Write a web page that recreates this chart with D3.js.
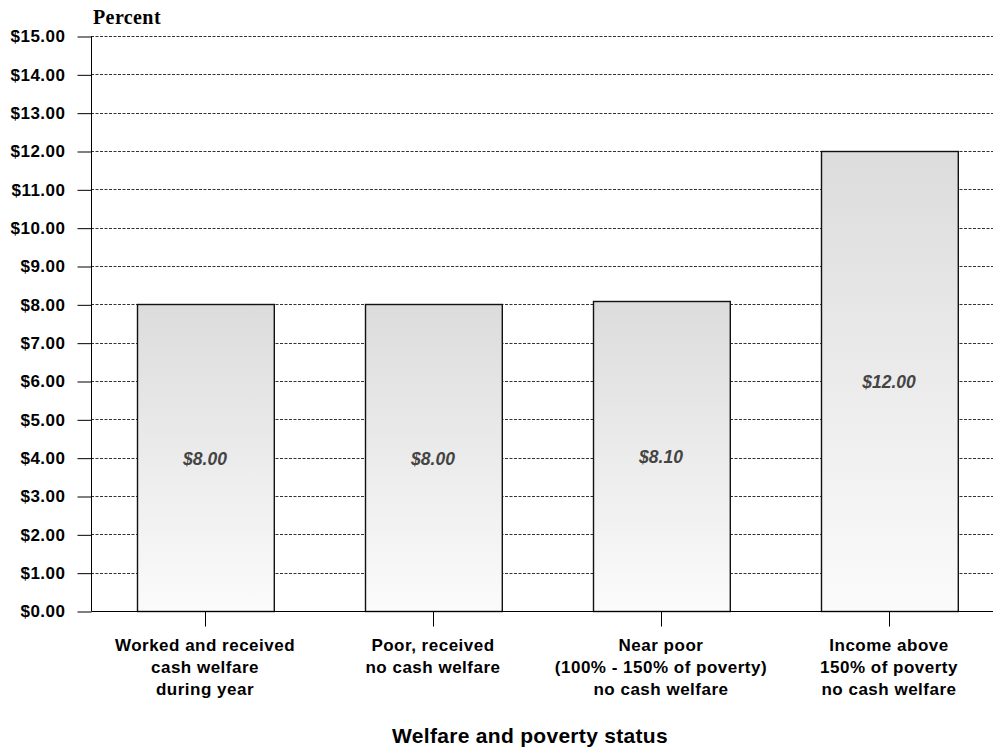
<!DOCTYPE html>
<html>
<head>
<meta charset="utf-8">
<script src="https://cdn.jsdelivr.net/npm/d3@7"></script>
<style>
  html, body { margin: 0; padding: 0; background: #fff; }
  svg { display: block; }
</style>
</head>
<body>
<svg id="chart" width="993" height="750"></svg>
<script>
// Bar categories (multi-line labels) and values in dollars
const categories = [
  ["Worked and received", "cash welfare", "during year"],
  ["Poor, received", "no cash welfare"],
  ["Near poor", "(100% - 150% of poverty)", "no cash welfare"],
  ["Income above", "150% of poverty", "no cash welfare"]
];
const values = [8.00, 8.00, 8.10, 12.00];
const yTicks = [0, 1, 2, 3, 4, 5, 6, 7, 8, 9, 10, 11, 12, 13, 14, 15];
const yLabel = "Percent";
const xTitle = "Welfare and poverty status";

(function () {
const svg = d3.select("#chart");
const W = 993;
const plotLeft = 91, plotTop = 36, plotBottom = 611;
const sans = "Liberation Sans, Arial, sans-serif";

const keys = categories.map((c, i) => i);
const x = d3.scaleBand().domain(keys).range([plotLeft, plotLeft + 4 * 228]).paddingInner(0.4).paddingOuter(0.2);
const y = d3.scaleLinear().domain([0, 15]).range([plotBottom, plotTop]);

const defs = svg.append("defs");
const grad = defs.append("linearGradient")
  .attr("id", "barFill").attr("x1", 0).attr("y1", 0).attr("x2", 0).attr("y2", 1);
grad.append("stop").attr("offset", "0%").attr("stop-color", "#dcdcdc");
grad.append("stop").attr("offset", "100%").attr("stop-color", "#fbfbfb");

// Dashed horizontal gridlines
svg.append("g").selectAll("line").data(yTicks.filter(d => d > 0)).join("line")
  .attr("x1", plotLeft).attr("x2", W)
  .attr("y1", d => Math.round(y(d)) + 0.5).attr("y2", d => Math.round(y(d)) + 0.5)
  .attr("stroke", "#333").attr("stroke-width", 1).attr("stroke-dasharray", "3,1.5");

// Bars
svg.append("g").selectAll("rect").data(values).join("rect")
  .attr("x", (d, i) => Math.round(x(i)) + 0.5)
  .attr("y", d => Math.round(y(d)) + 0.5)
  .attr("width", x.bandwidth())
  .attr("height", d => Math.round(y(0)) - Math.round(y(d)))
  .attr("fill", "url(#barFill)")
  .attr("stroke", "#111").attr("stroke-width", 1.4);

// Value labels centred in the bars
svg.append("g").selectAll("text").data(values).join("text")
  .attr("x", (d, i) => x(i) + x.bandwidth() / 2)
  .attr("y", d => y(d / 2) + 7)
  .attr("text-anchor", "middle")
  .attr("font-family", sans)
  .attr("font-size", 17.5).attr("font-weight", "bold").attr("font-style", "italic")
  .attr("fill", "#444")
  .text(d => "$" + d.toFixed(2));

// Y axis
const yAxis = d3.axisLeft(y).tickValues(yTicks).tickSize(14).tickPadding(12)
  .tickFormat(d => "$" + d3.format(".2f")(d));
const gy = svg.append("g").attr("transform", `translate(${plotLeft + 0.5},0.5)`).call(yAxis);
gy.select(".domain").attr("stroke", "#000").attr("d", `M0,${plotTop}V${plotBottom}`);
gy.selectAll(".tick line").attr("stroke", "#000");
gy.selectAll(".tick text")
  .attr("font-family", sans)
  .attr("font-size", 17).attr("font-weight", "bold").attr("fill", "#000")
  .attr("letter-spacing", 0.5);

// X axis baseline and ticks
const xAxis = d3.axisBottom(x).tickSize(15).tickFormat("");
const gx = svg.append("g").attr("transform", `translate(0.5,${Math.round(plotBottom) + 0.5})`).call(xAxis);
gx.select(".domain").attr("d", `M${plotLeft},0H${W}`).attr("stroke", "#000");
gx.selectAll(".tick line").attr("stroke", "#000");

// Category labels
const lbl = svg.append("g").selectAll("text").data(categories).join("text")
  .attr("text-anchor", "middle")
  .attr("font-family", sans)
  .attr("font-size", 17).attr("font-weight", "bold").attr("fill", "#000")
  .attr("letter-spacing", 0.5);
lbl.each(function (lines, i) {
  const t = d3.select(this);
  lines.forEach((ln, j) => {
    t.append("tspan").attr("x", x(i) + x.bandwidth() / 2).attr("y", 651 + j * 22).text(ln);
  });
});

// Y label
svg.append("text").attr("x", 93).attr("y", 24)
  .attr("font-family", "Liberation Serif, Times New Roman, serif")
  .attr("font-size", 20).attr("font-weight", "bold").attr("fill", "#000")
  .attr("letter-spacing", 0.4)
  .text(yLabel);

// X axis title
svg.append("text").attr("x", 530).attr("y", 743).attr("text-anchor", "middle")
  .attr("font-family", sans)
  .attr("font-size", 21).attr("font-weight", "bold").attr("fill", "#000")
  .attr("letter-spacing", 0.3)
  .text(xTitle);
})();
</script>
</body>
</html>
